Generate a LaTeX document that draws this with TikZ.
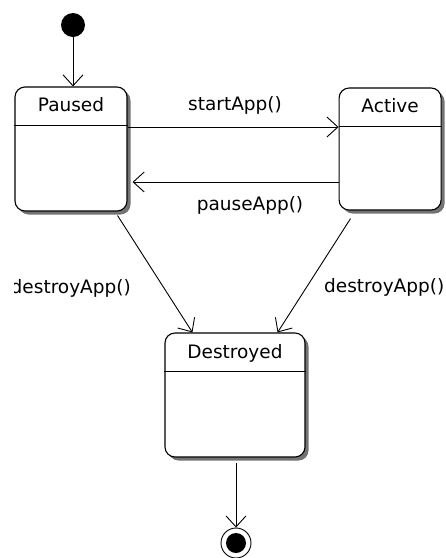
\documentclass[tikz,border=0pt]{standalone}
\usepackage{fontspec}
\setmainfont{DejaVu Sans}
\usetikzlibrary{arrows.meta,positioning,shadows}
\definecolor{ink}{RGB}{0,0,0}
\tikzset{
  >={Straight Barb[length=11pt,width=20pt]},
  statebox/.style={draw=ink,line width=1.1pt,rounded corners=10pt,fill=white,
    minimum width=#1,minimum height=124pt,inner sep=0pt,
    drop shadow={shadow xshift=3.5pt,shadow yshift=-3.5pt,fill=black!55,opacity=1}},
  statebox/.default=112pt,
  divider/.style={draw=ink,line width=1.1pt},
  statename/.style={font=\fontsize{18.5}{22}\selectfont,anchor=base,inner sep=0pt},
  trans/.style={->,line width=0.9pt,draw=ink},
  tag/.style={font=\fontsize{18.5}{22}\selectfont,inner sep=0pt,anchor=base},
  pseudo/.style={circle,inner sep=0pt,minimum size=#1},
}

\begin{document}
\begin{tikzpicture}[x=1pt,y=-1pt]
  \useasboundingbox (0,0) rectangle (446,558);
  % states
  \node[statebox] (paused) at (71,149) {};
  \node[statebox=102pt,minimum height=122pt,right=211pt of paused] (active) {};
  \node[statebox=140pt] (destroyed) at (235,395) {};
  \foreach \s in {paused,active,destroyed}
    \draw[divider] ([yshift=-39pt]\s.north west) -- ([yshift=-39pt]\s.north east);
  \node[statename] (paused-t) at ([yshift=-25pt]paused.north) {Paused};
  \node[statename] (active-t) at ([yshift=-25pt]active.north) {Active};
  \node[statename] (destroyed-t) at ([yshift=-26pt]destroyed.north) {Destroyed};
  % start and end
  \node[pseudo=24pt,fill=ink] (init) at (73,25) {};
  \node[pseudo=30pt,draw=ink,line width=0.9pt] (final) at (236,543) {};
  \node[pseudo=20pt,fill=ink] (final-dot) at (final) {};
  % transitions
  \draw[trans] (init) -- (init |- paused.north);
  \draw[trans] ([yshift=22pt]paused.east) -- ([yshift=22pt]active.west);
  \draw[trans,shorten >=5pt] ([yshift=-33pt]active.west) -- ([yshift=-33pt]paused.east);
  \draw[trans] ([xshift=-10pt,yshift=-4pt]paused.south east) -- ([xshift=28pt]destroyed.north west);
  \draw[trans] ([xshift=12pt,yshift=-8pt]active.south west) -- ([xshift=-28pt]destroyed.north east);
  \draw[trans,shorten <=5pt] (destroyed.south -| final) -- (final.north);
  % labels
  \node[tag] (start-l) at (235,110) {startApp()};
  \node[tag] (pause-l) at (250,210) {pauseApp()};
  \begin{scope}
    \clip (14,260) rectangle (200,320);
    \node[tag,anchor=base east] (destroy-l) at (131,293) {destroyApp()};
  \end{scope}
  \node[tag,anchor=base west] (destroy-r) at (324,292) {destroyApp()};
\end{tikzpicture}
\end{document}
